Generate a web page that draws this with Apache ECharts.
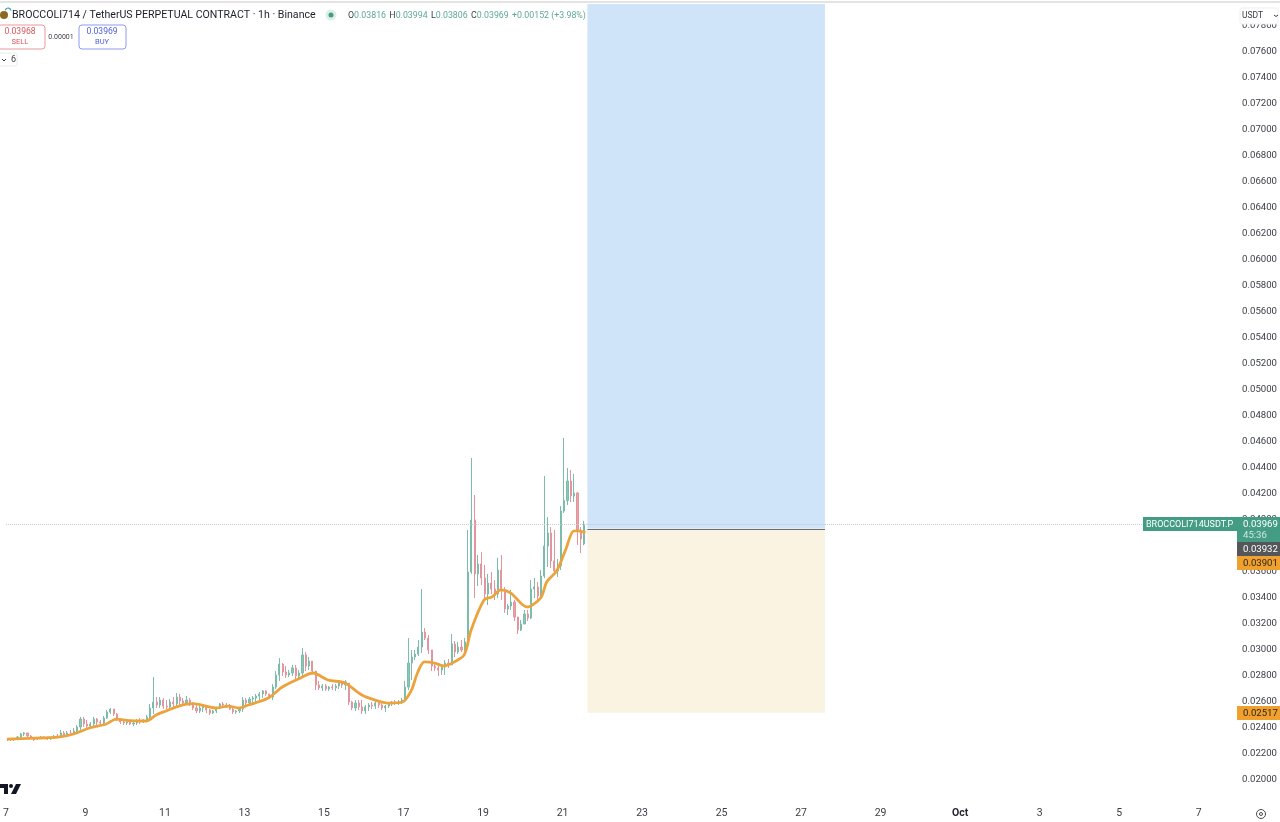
<!DOCTYPE html>
<html>
<head>
<meta charset="utf-8">
<title>BROCCOLI714 / TetherUS</title>
<style>
  html, body { margin: 0; padding: 0; background: #fff; overflow: hidden; }
  #main { width: 1280px; height: 822px; }
</style>
</head>
<body>
<div id="main"></div>
<script src="https://cdn.jsdelivr.net/npm/echarts@6/dist/echarts.min.js"></script>
<script>
// prices below are in 1/1000 USDT, one bar every 2 hours, starting 7 Sep 01:00
const opens = [
  23.08,23.15,23.08,23.15,23.31,23.54,23.62,23.38,23.23,23.15,
  23.23,23.31,23.23,23.15,23.23,23.38,23.31,23.62,23.46,23.62,
  23.54,23.77,24.08,24.69,24.31,24.15,24.31,24.69,24.46,24.38,
  24.77,25.23,25.46,25.08,24.69,24.46,24.38,24.46,24.31,24.38,
  24.54,24.46,24.62,24.85,25.54,26.00,25.77,26.15,25.69,25.62,
  26.00,25.85,26.38,26.08,25.92,26.15,25.85,25.54,25.31,25.54,
  25.62,25.38,25.15,25.31,25.54,25.85,25.77,25.69,25.46,25.23,
  25.31,25.46,26.15,25.92,26.23,26.31,26.46,26.62,26.85,26.62,
  26.38,27.15,28.08,28.92,28.31,28.08,28.23,28.62,28.00,28.23,
  29.62,28.77,29.15,28.38,27.31,27.08,27.23,27.00,27.15,27.08,
  27.23,27.46,27.31,27.46,26.00,25.54,25.92,25.62,25.31,25.62,
  25.77,25.69,25.92,25.77,25.54,25.69,25.85,26.00,25.92,26.00,
  26.15,27.15,29.00,29.46,29.69,30.23,31.38,30.92,30.00,28.77,
  28.62,28.46,28.69,29.00,28.85,30.46,29.85,30.23,30.00,30.62,
  36.00,40.00,35.85,36.62,35.54,34.31,35.15,34.69,34.31,36.15,
  34.62,33.15,33.38,33.69,32.54,31.54,32.00,32.77,32.46,34.69,
  34.85,34.15,35.69,38.00,39.00,36.85,36.08,36.46,40.69,41.50,
  43.00,41.85,42.08,39.15,38.16
];
const closes = [
  23.15,23.08,23.15,23.31,23.54,23.62,23.38,23.23,23.08,23.23,
  23.31,23.23,23.15,23.23,23.38,23.31,23.62,23.46,23.62,23.54,
  23.77,24.08,24.69,24.31,24.15,24.31,24.69,24.46,24.38,24.77,
  25.23,25.46,25.08,24.69,24.46,24.38,24.46,24.31,24.38,24.54,
  24.46,24.62,24.85,25.54,26.00,25.77,26.15,25.69,25.62,26.00,
  25.85,26.38,26.08,25.92,26.15,25.85,25.54,25.31,25.54,25.62,
  25.38,25.15,25.31,25.54,25.85,25.77,25.69,25.46,25.23,25.31,
  25.46,26.15,25.92,26.23,26.31,26.46,26.62,26.85,26.62,26.38,
  27.15,28.08,28.92,28.31,28.08,28.23,28.62,28.00,28.23,29.62,
  28.77,29.15,28.38,27.31,27.08,27.23,27.00,27.15,27.08,27.23,
  27.46,27.31,27.54,26.00,25.54,25.92,25.62,25.31,25.62,25.77,
  25.69,25.92,25.77,25.54,25.69,25.85,26.00,25.92,26.00,26.15,
  27.15,29.00,29.46,29.69,30.23,31.38,30.92,30.00,28.77,28.62,
  28.46,28.69,29.00,28.85,30.46,29.85,30.23,30.00,30.62,36.00,
  40.00,35.85,36.62,35.54,34.31,35.15,34.69,34.31,36.15,34.62,
  33.15,33.38,33.69,32.54,31.54,32.00,32.77,32.46,34.69,34.85,
  34.15,35.69,38.00,39.00,36.85,36.08,36.46,40.69,41.50,43.00,
  41.85,42.08,39.15,38.54,39.69
];
const lows = [
  23.00,23.00,23.00,23.08,23.23,23.38,23.31,23.15,23.00,23.08,
  23.15,23.15,23.08,23.08,23.15,23.23,23.23,23.31,23.38,23.46,
  23.46,23.62,23.85,24.08,24.00,24.00,24.15,24.23,24.23,24.23,
  24.69,25.08,24.92,24.54,24.31,24.23,24.23,24.23,24.15,24.23,
  24.31,24.38,24.46,24.69,25.08,25.54,25.54,25.46,25.46,25.54,
  25.62,25.69,25.77,25.77,25.77,25.69,25.38,25.15,25.15,25.23,
  25.15,25.00,25.08,25.15,25.46,25.62,25.54,25.38,25.08,25.08,
  25.15,25.23,25.69,25.77,25.92,26.00,26.15,26.31,26.46,26.23,
  26.15,27.00,27.62,28.00,27.85,27.92,28.00,27.77,27.69,28.00,
  28.38,28.46,28.15,26.92,26.92,26.85,26.85,26.85,26.92,26.85,
  27.00,27.08,26.92,25.77,25.38,25.31,25.38,25.08,25.08,25.31,
  25.46,25.46,25.54,25.38,25.23,25.54,25.69,25.77,25.77,25.85,
  26.00,26.92,27.69,29.23,29.54,29.77,30.77,29.69,28.38,28.38,
  28.00,28.08,28.08,28.62,28.85,29.46,29.69,29.85,29.92,30.62,
  35.85,34.00,34.92,35.00,33.85,33.46,34.31,33.85,34.00,33.85,
  32.85,32.69,33.08,32.23,31.23,31.46,32.00,32.23,32.38,34.00,
  33.85,33.92,35.54,36.38,36.31,35.77,35.62,36.15,40.54,41.15,
  41.38,41.38,38.08,37.46,38.06
];
const highs = [
  23.23,23.23,23.23,23.38,23.62,23.69,23.62,23.46,23.31,23.31,
  23.38,23.38,23.31,23.31,23.46,23.54,23.85,23.77,23.77,23.85,
  24.00,24.23,24.85,24.85,24.62,24.46,24.85,24.77,24.62,24.92,
  25.38,25.54,25.46,25.15,24.77,24.62,24.54,24.62,24.54,24.69,
  24.77,24.69,25.00,25.85,27.92,26.38,26.38,26.31,26.15,26.23,
  26.38,26.69,26.62,26.31,26.46,26.31,26.00,25.77,25.69,25.77,
  25.69,25.46,25.38,25.62,25.92,26.00,25.92,25.85,25.54,25.38,
  25.54,26.38,26.31,26.38,26.46,26.62,26.77,26.92,26.92,26.62,
  27.38,28.38,29.38,29.00,28.77,28.46,28.85,28.85,28.46,30.15,
  29.85,29.46,29.15,28.38,27.62,27.38,27.38,27.23,27.38,27.38,
  27.62,27.62,27.69,27.46,26.08,26.15,26.15,26.15,25.77,25.92,
  26.00,26.08,26.08,25.92,25.77,26.00,26.08,26.15,26.15,26.31,
  27.62,30.92,30.00,30.00,30.77,34.69,31.69,31.15,30.00,29.08,
  28.92,28.92,29.23,29.31,31.23,30.69,30.62,30.77,30.92,39.23,
  44.77,41.92,37.31,37.54,36.54,35.85,36.00,35.38,37.08,37.31,
  34.85,33.54,34.62,33.85,32.54,32.31,33.08,33.08,35.38,35.54,
  35.23,36.15,43.38,40.23,39.46,39.23,37.00,41.08,46.31,44.00,
  43.85,43.54,42.15,39.46,39.94
];
// orange moving average, read at the hours listed
const maHours = [
  0.6,24.6,32.4,40.8,50.4,60.6,66.6,74.4,84.6,90.6,96.6,104.4,112.8,120.6,126.6,134.4,
  140.4,146.4,158.4,166.8,176.4,185.4,194.4,204.6,214.8,224.4,230.4,239.4,244.8,248.4,
  252.6,258.6,264.6,270.6,276.6,280.8,288.6,293.4,298.8,304.8,314.4,322.8,326.4,332.4,
  337.8,342.6,345.6,349.8
];
const maValues = [
  23.15,23.25,23.31,23.54,24.00,24.31,24.69,24.56,24.54,25.00,25.31,25.69,25.87,25.69,25.54,25.69,
  25.54,25.77,26.31,27.15,27.77,28.23,27.69,27.46,26.54,26.08,25.92,26.00,26.92,28.23,
  29.08,29.00,28.77,29.08,29.62,31.54,33.85,34.08,34.62,34.38,33.31,34.00,35.23,36.08,
  37.69,39.15,39.17,39.02
];
const dayLabels = ['7','9','11','13','15','17','19','21','23','25','27','29','Oct','3','5','7'];

const lastPrice = 0.03969;
const entryPrice = 0.03932;
const targetPrice = 0.0797;
const stopPrice = 0.02517;
const positionStart = 351;
const positionEnd = 494.4;
const lastHour = 742;

const candles = opens.map((o, i) => [i * 2 + 1, o / 1000, closes[i] / 1000, lows[i] / 1000, highs[i] / 1000]);
const maLine = maHours.map((h, i) => [h, maValues[i] / 1000]);

const FONT = 'Roboto, "Noto Sans", sans-serif';
const GREEN = '#459c85';

const chart = echarts.init(document.getElementById('main'), null, { renderer: 'canvas' });

chart.setOption({
  animation: false,
  backgroundColor: '#fff',
  grid: { left: -1, top: 0, width: 1236.67, height: 806, containLabel: false },
  xAxis: {
    type: 'value',
    min: 0,
    max: lastHour,
    interval: 48,
    containShape: false,
    splitLine: { show: false },
    axisLine: { show: false },
    axisTick: { show: false },
    axisLabel: {
      showMaxLabel: false,
      margin: 2,
      fontFamily: FONT,
      fontSize: 10.5,
      color: '#3a3d45',
      formatter: v => {
        const t = dayLabels[v / 48];
        return t === 'Oct' ? '{b|Oct}' : t;
      },
      rich: { b: { fontWeight: 'bold', fontFamily: FONT, fontSize: 10.5, color: '#26282e' } }
    }
  },
  yAxis: {
    type: 'value',
    position: 'right',
    min: 0.018,
    max: 0.08,
    interval: 0.002,
    scale: true,
    splitLine: { show: false },
    axisLine: { show: false },
    axisTick: { show: false },
    axisLabel: {
      showMinLabel: false,
      showMaxLabel: false,
      margin: 7,
      padding: [2, 0, 0, 0],
      fontFamily: FONT,
      fontSize: 9.6,
      color: '#3a3d45',
      formatter: v => v.toFixed(5)
    }
  },
  series: [
    {
      type: 'candlestick',
      data: candles,
      encode: { x: 0, y: [1, 2, 3, 4] },
      barWidth: 1.6,
      clip: true,
      itemStyle: {
        color: '#8cc6b6',
        color0: '#e8a4aa',
        borderColor: '#7bbcaa',
        borderColor0: '#e2959c',
        borderWidth: 1
      },
      markArea: {
        silent: true,
        data: [
          [
            { xAxis: positionStart, yAxis: targetPrice, itemStyle: { color: '#cfe3f9' } },
            { xAxis: positionEnd, yAxis: entryPrice }
          ],
          [
            { xAxis: positionStart, yAxis: entryPrice, itemStyle: { color: '#fbf3e2' } },
            { xAxis: positionEnd, yAxis: stopPrice }
          ]
        ]
      },
      markLine: {
        silent: true,
        symbol: 'none',
        label: { show: false },
        data: [
          [
            { coord: [0, lastPrice], lineStyle: { color: '#c4cbc9', type: 'dotted', width: 1 } },
            { coord: [positionStart, lastPrice] }
          ],
          [
            { coord: [positionStart, lastPrice], lineStyle: { color: '#b4cae2', type: 'dotted', width: 1 } },
            { coord: [positionEnd, lastPrice] }
          ],
          [
            { coord: [positionEnd, lastPrice], lineStyle: { color: '#c4cbc9', type: 'dotted', width: 1 } },
            { coord: [lastHour, lastPrice] }
          ],
          [
            { coord: [positionStart, entryPrice], lineStyle: { color: '#6a6d72', type: 'solid', width: 1 } },
            { coord: [positionEnd, entryPrice] }
          ]
        ]
      }
    },
    {
      type: 'line',
      data: maLine,
      smooth: 0.3,
      showSymbol: false,
      lineStyle: { color: '#eca33c', width: 2.8 },
      z: 5
    }
  ]
});

function label(x, y, text, font, fill, align) {
  return { type: 'text', z: 20, style: { x, y, text, font, fill, align: align || 'left', verticalAlign: 'middle' } };
}
function box(x, y, w, h, fill, stroke, r) {
  return { type: 'rect', z: 19, shape: { x, y, width: w, height: h, r: r || 0 }, style: { fill, stroke: stroke || null, lineWidth: 1 } };
}

chart.setOption({
  graphic: [
    { type: 'rect', z: 18, shape: { x: 0, y: 1, width: 1280, height: 2 }, style: { fill: '#e4e4e4' } },

    // header
    { type: 'circle', z: 20, shape: { cx: 4, cy: 15, r: 4 }, style: { fill: '#8a6a1e' } },
    { type: 'arc', z: 20, shape: { cx: 8, cy: 11, r: 3, startAngle: 3.4, endAngle: 6.2 }, style: { stroke: '#3aa6b8', fill: null, lineWidth: 1.2 } },
    label(12, 15.5, 'BROCCOLI714 / TetherUS PERPETUAL CONTRACT · 1h · Binance', '10.6px ' + FONT, '#1c1f28'),
    { type: 'circle', z: 20, shape: { cx: 331, cy: 15, r: 5.5 }, style: { fill: '#dcefe9' } },
    { type: 'circle', z: 20, shape: { cx: 331, cy: 15, r: 2.5 }, style: { fill: GREEN } },
    {
      type: 'text', z: 20,
      style: {
        x: 348, y: 15.5, verticalAlign: 'middle',
        text: '{k|O}{v|0.03816} {k|H}{v|0.03994} {k|L}{v|0.03806} {k|C}{v|0.03969} {v|+0.00152 (+3.98%)}',
        rich: {
          k: { font: '8.8px ' + FONT, fill: '#3a3d45' },
          v: { font: '8.8px ' + FONT, fill: '#5fa896' }
        }
      }
    },

    // sell / buy buttons
    box(-2, 25, 47, 24, '#fff', '#e79a9a', 3),
    label(20, 32, '0.03968', '8.6px ' + FONT, '#d9555a', 'center'),
    label(20, 42, 'SELL', '7.5px ' + FONT, '#d9555a', 'center'),
    label(61, 37, '0.00001', '7px ' + FONT, '#3a3d45', 'center'),
    box(79, 25, 47, 24, '#fff', '#8f9bea', 3),
    label(102, 32, '0.03969', '8.6px ' + FONT, '#4f60dc', 'center'),
    label(102, 42, 'BUY', '7.5px ' + FONT, '#4f60dc', 'center'),
    box(-3, 53, 20, 13, '#fff', '#ececec', 2),
    { type: 'polyline', z: 20, shape: { points: [[2, 59], [4, 61], [6, 59]] }, style: { stroke: '#3a3d45', fill: null, lineWidth: 1 } },
    label(11, 60, '6', '9px ' + FONT, '#3a3d45'),

    // watermark logo
    { type: 'polygon', z: 20, shape: { points: [[0, 784], [8, 784], [8, 794], [4, 794], [4, 788], [0, 788]] }, style: { fill: '#131722' } },
    { type: 'circle', z: 20, shape: { cx: 11, cy: 786, r: 2 }, style: { fill: '#131722' } },
    { type: 'polygon', z: 20, shape: { points: [[16, 784], [21, 784], [16, 794], [11, 794]] }, style: { fill: '#131722' } },

    // currency box
    box(1240, 8, 38, 16, '#fff', '#efefef', 2),
    label(1242, 16, 'USDT', '8.5px ' + FONT, '#3a3d45'),
    { type: 'polyline', z: 20, shape: { points: [[1274, 15], [1276, 16.5], [1278, 15]] }, style: { stroke: '#3a3d45', fill: null, lineWidth: 1 } },

    // price tags
    box(1143, 517, 94, 14, GREEN),
    label(1146, 525, 'BROCCOLI714USDT.P', '9px ' + FONT, '#fff'),
    box(1237, 517, 43, 25, GREEN),
    label(1243, 525, '0.03969', '9.6px ' + FONT, '#fff'),
    label(1243, 536, '45:36', '9.6px ' + FONT, '#cfe6df'),
    box(1237, 542, 43, 14, '#55565a'),
    label(1243, 550, '0.03932', '9.6px ' + FONT, '#fff'),
    box(1237, 556, 43, 14, '#f0a02c'),
    label(1243, 564, '0.03901', '9.6px ' + FONT, '#2a2520'),
    box(1237, 706, 43, 14, '#f0a02c'),
    label(1243, 714, '0.02517', '9.6px ' + FONT, '#2a2520'),

    // settings icon
    { type: 'circle', z: 20, shape: { cx: 1261, cy: 814, r: 4.5 }, style: { fill: '#fff', stroke: '#4a4d55', lineWidth: 1 } },
    { type: 'circle', z: 20, shape: { cx: 1261, cy: 814, r: 1.5 }, style: { fill: null, stroke: '#4a4d55', lineWidth: 1 } }
  ]
});
</script>
</body>
</html>
